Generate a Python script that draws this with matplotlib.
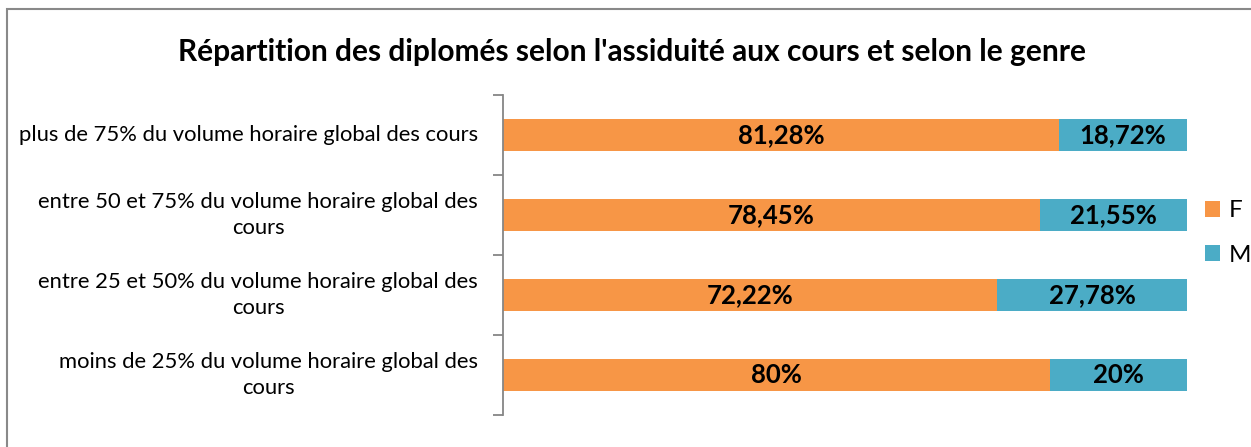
import matplotlib
matplotlib.use("Agg")
import matplotlib.pyplot as plt
from matplotlib.patches import Rectangle
import numpy as np

categories = [
    "moins de 25% du volume horaire global des\ncours",
    "entre 25 et 50% du volume horaire global des\ncours",
    "entre 50 et 75% du volume horaire global des\ncours",
    "plus de 75% du volume horaire global des cours",
]
f_values = [80.0, 72.22, 78.45, 81.28]
m_values = [20.0, 27.78, 21.55, 18.72]
f_labels = ["80%", "72,22%", "78,45%", "81,28%"]
m_labels = ["20%", "27,78%", "21,55%", "18,72%"]
series_names = ["F", "M"]
title = "Répartition des diplomés selon l'assiduité aux cours et selon le genre"

plt.rcParams['font.family'] = ['Lato', 'DejaVu Sans']

W, H = 1251, 447
fig = plt.figure(figsize=(W / 100, H / 100), dpi=100)
ax = fig.add_axes([503 / W, 1 - 415 / H, (1187 - 503) / W, (415 - 95) / H])

y = np.arange(len(categories))
c_f = "#F79646"
c_m = "#4BACC6"
bf = ax.barh(y, f_values, height=0.4, color=c_f, label=series_names[0])
bm = ax.barh(y, m_values, left=f_values, height=0.4, color=c_m, label=series_names[1])

for i in range(len(categories)):
    ax.text(f_values[i] / 2, y[i], f_labels[i], ha="center", va="center",
            fontsize=18.5, fontweight="bold", color="black")
    ax.text(f_values[i] + m_values[i] / 2, y[i], m_labels[i], ha="center", va="center",
            fontsize=18.5, fontweight="bold", color="black")

ax.set_xlim(0, 100)
ax.set_ylim(-0.5, len(categories) - 0.5)
ax.set_yticks(y)
ax.set_yticklabels(categories, fontsize=15.8, multialignment="center",
                   linespacing=1.35, va="center")
for lbl in ax.get_yticklabels():
    if "\n" in lbl.get_text():
        lbl.set_y(lbl.get_position()[1])
ax.tick_params(axis="y", which="major", length=0, pad=18)
ax.set_yticks(np.arange(-0.5, len(categories), 1.0), minor=True)
ax.tick_params(axis="y", which="minor", length=7, width=1.3, color="#868686")
ax.set_xticks([])
for s in ["top", "right", "bottom"]:
    ax.spines[s].set_visible(False)
ax.spines["left"].set_color("#868686")
ax.spines["left"].set_linewidth(1.3)

fig.text(632 / W, 1 - 52 / H, title, ha="center", va="center",
         fontsize=21.5, fontweight="bold")

leg = fig.legend(handles=[bf, bm], loc="center left",
                 bbox_to_anchor=(1205 / W, 1 - 233 / H), frameon=False,
                 fontsize=17.5, handlelength=0.62, handleheight=0.62,
                 labelspacing=0.95, handletextpad=0.35, borderpad=0,
                 borderaxespad=0)

fig.patches.append(Rectangle((7 / W, -0.05), 1.2, 1 - 9 / H + 0.05,
                             transform=fig.transFigure, fill=False,
                             edgecolor="#898989", linewidth=1.5))

fig.savefig("out.png", dpi=100)
